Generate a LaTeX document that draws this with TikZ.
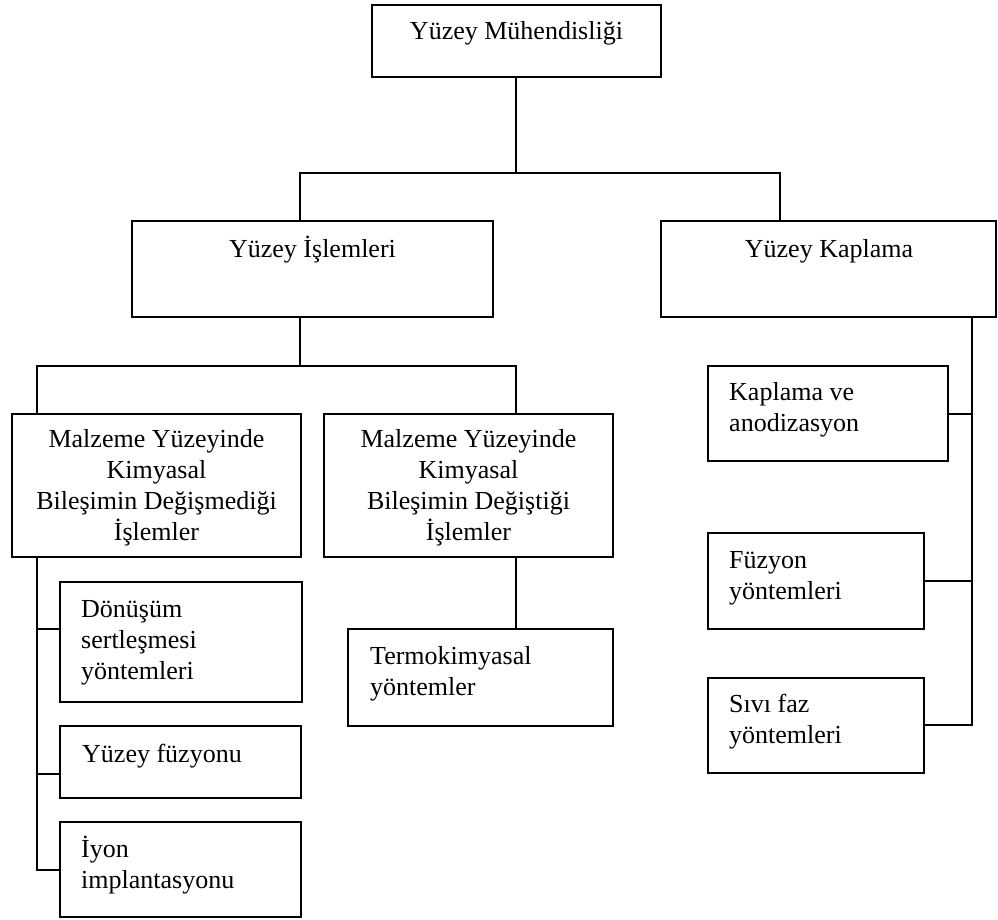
\documentclass[tikz,border=0pt]{standalone}
\usepackage{fontspec}
\setmainfont{Liberation Serif}
\newcommand\linesc[1]{\vtop{\halign{\hfil##\hfil\cr#1\crcr}}}
\newcommand\linesl[1]{\vtop{\halign{##\hfil\cr#1\crcr}}}
\tikzset{
  box/.style={draw, line width=2pt, rectangle, inner sep=0pt},
  txt/.style={inner sep=0pt, font=\fontsize{26}{31}\selectfont},
  conn/.style={line width=2pt}
}
\begin{document}
\begin{tikzpicture}[x=1pt,y=-1pt]
\useasboundingbox (0,0) rectangle (998,920);
% boxes
\node[box, minimum width=289, minimum height=72] (top) at (516.5,41) {};
\node[box, minimum width=361, minimum height=96] (isl) at (312.5,269) {};
\node[box, minimum width=335, minimum height=96] (kap) at (828.5,269) {};
\node[box, minimum width=289, minimum height=143] (m1) at (156.5,485.5) {};
\node[box, minimum width=289, minimum height=143] (m2) at (468.5,485.5) {};
\node[box, minimum width=265, minimum height=97] (term) at (480.5,677.5) {};
\node[box, minimum width=242, minimum height=120] (don) at (181,642) {};
\node[box, minimum width=241, minimum height=72] (yf) at (180.5,762) {};
\node[box, minimum width=241, minimum height=95] (iyon) at (180.5,869.5) {};
\node[box, minimum width=240, minimum height=95] (kav) at (828,413.5) {};
\node[box, minimum width=216, minimum height=96] (fuz) at (816,581) {};
\node[box, minimum width=216, minimum height=95] (siv) at (816,725.5) {};
% texts
\node[txt, anchor=base] (ttop) at (516.5,40) {Yüzey Mühendisliği};
\node[txt, anchor=base] (tisl) at (312.5,257) {Yüzey İşlemleri};
\node[txt, anchor=base] (tkap) at (829,257) {Yüzey Kaplama};
\node[txt, anchor=base] (tm1) at (156.5,447) {\linesc{Malzeme Yüzeyinde\cr Kimyasal\cr Bileşimin Değişmediği\cr İşlemler}};
\node[txt, anchor=base] (tm2) at (468.5,447) {\linesc{Malzeme Yüzeyinde\cr Kimyasal\cr Bileşimin Değiştiği\cr İşlemler}};
\node[txt, anchor=base west] (tterm) at (370,664) {\linesl{Termokimyasal\cr yöntemler}};
\node[txt, anchor=base west] (tdon) at (81,617) {\linesl{Dönüşüm\cr sertleşmesi\cr yöntemleri}};
\node[txt, anchor=base west] (tyf) at (82,762) {Yüzey füzyonu};
\node[txt, anchor=base west] (tiyon) at (81,857) {\linesl{İyon\cr implantasyonu}};
\node[txt, anchor=base west] (tkav) at (729,400) {\linesl{Kaplama ve\cr anodizasyon}};
\node[txt, anchor=base west] (tfuz) at (729,568) {\linesl{Füzyon\cr yöntemleri}};
\node[txt, anchor=base west] (tsiv) at (729,712) {\linesl{Sıvı faz\cr yöntemleri}};
% junction coordinates
\coordinate (j1) at (516,173);
\coordinate (j1l) at (300,173);
\coordinate (j1r) at (780,173);
\coordinate (j2) at (300,366);
\coordinate (j2l) at (37,366);
\coordinate (j2r) at (516,366);
\coordinate (bL) at (37,629);
\coordinate (bL2) at (37,774);
\coordinate (bL3) at (37,870);
\coordinate (bR) at (972,317);
\coordinate (bR1) at (972,414);
\coordinate (bR2) at (972,581);
\coordinate (bR3) at (972,725);
% connectors
\draw[conn] (top.south -| j1) -- (j1);
\draw[conn] (isl.north -| j1l) -- (j1l) -- (j1r) -- (kap.north -| j1r);
\draw[conn] (isl.south -| j2) -- (j2);
\draw[conn] (m1.north -| j2l) -- (j2l) -- (j2r) -- (m2.north -| j2r);
\draw[conn] (m2.south -| j2r) -- (term.north -| j2r);
\draw[conn] (m1.south -| bL) -- (bL3) -- (iyon.west |- bL3);
\draw[conn] (bL) -- (don.west |- bL);
\draw[conn] (bL2) -- (yf.west |- bL2);
\draw[conn] (kap.south -| bR) -- (bR3) -- (siv.east |- bR3);
\draw[conn] (kav.east |- bR1) -- (bR1);
\draw[conn] (fuz.east |- bR2) -- (bR2);
\end{tikzpicture}
\end{document}
